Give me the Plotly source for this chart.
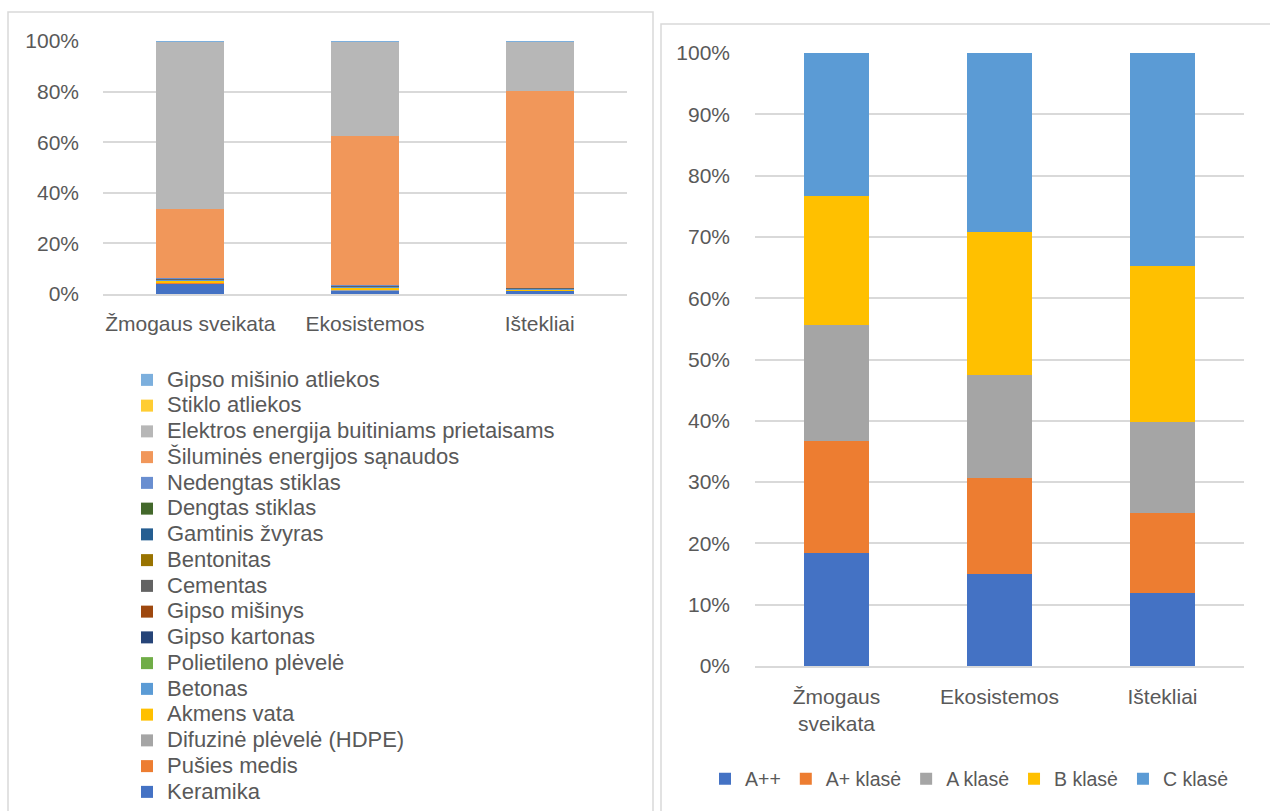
import plotly.graph_objects as go

W, H = 1270, 811

# ---- left chart: environmental impact by material / energy use ----
categories_left = ["Žmogaus sveikata", "Ekosistemos", "Ištekliai"]

# stacked bottom -> top
left_series = [
    ("Keramika", "#4472C4", [4.2, 1.3, 1.2]),
    ("Pušies medis", "#ED7D31", [0.15, 0.10, 0.05]),
    ("Difuzinė plėvelė (HDPE)", "#A5A5A5", [0.05, 0.05, 0.05]),
    ("Akmens vata", "#FFC000", [1.0, 1.05, 0.5]),
    ("Betonas", "#5B9BD5", [0.35, 0.45, 0.35]),
    ("Polietileno plėvelė", "#70AD47", [0.02, 0.02, 0.02]),
    ("Gipso kartonas", "#264478", [0.10, 0.10, 0.08]),
    ("Gipso mišinys", "#9E480E", [0.03, 0.03, 0.02]),
    ("Cementas", "#636363", [0.10, 0.15, 0.10]),
    ("Bentonitas", "#997300", [0.02, 0.02, 0.02]),
    ("Gamtinis žvyras", "#255E91", [0.03, 0.03, 0.03]),
    ("Dengtas stiklas", "#43682B", [0.10, 0.15, 0.05]),
    ("Nedengtas stiklas", "#698ED0", [0.10, 0.20, 0.05]),
    ("Šiluminės energijos sąnaudos", "#F1975A", [27.35, 58.85, 77.68]),
    ("Elektros energija buitiniams prietaisams", "#B7B7B7", [66.37, 37.47, 19.77]),
    ("Stiklo atliekos", "#FFCD33", [0.02, 0.02, 0.02]),
    ("Gipso mišinio atliekos", "#7CAFDD", [0.01, 0.01, 0.01]),
]

# ---- right chart: energy class comparison ----
categories_right = ["Žmogaus<br>sveikata", "Ekosistemos", "Ištekliai"]
right_series = [
    ("A++", "#4472C4", [18.4, 15.0, 11.9]),
    ("A+ klasė", "#ED7D31", [18.3, 15.7, 13.1]),
    ("A klasė", "#A5A5A5", [18.9, 16.8, 14.8]),
    ("B klasė", "#FFC000", [21.1, 23.3, 25.5]),
    ("C klasė", "#5B9BD5", [23.3, 29.2, 34.7]),
]

left_ticks = [0, 20, 40, 60, 80, 100]
left_tick_text = ["0%", "20%", "40%", "60%", "80%", "100%"]
right_ticks = [0, 10, 20, 30, 40, 50, 60, 70, 80, 90, 100]
right_tick_text = ["0%", "10%", "20%", "30%", "40%", "50%",
                   "60%", "70%", "80%", "90%", "100%"]

FONT = "Liberation Sans"
TXT = "#595959"
GRID = "#D9D9D9"

fig = go.Figure()

for name, color, vals in left_series:
    fig.add_trace(go.Bar(
        x=categories_left, y=vals,
        # legend rows stay tight while the label itself is drawn larger
        name=f'<span style="font-size:22px">{name}</span>',
        marker_color=color,
        marker_line_width=0, width=0.39, xaxis="x", yaxis="y",
        legend="legend",
    ))

for name, color, vals in right_series:
    fig.add_trace(go.Bar(
        x=categories_right, y=vals, name=name, marker_color=color,
        marker_line_width=0, width=0.4, xaxis="x2", yaxis="y2",
        legend="legend2",
    ))


def px_x(v):
    return v / W


def px_y(v):
    return 1 - v / H


axis_font = dict(family=FONT, size=21, color=TXT)

fig.update_layout(
    width=W, height=H,
    margin=dict(l=0, r=0, t=0, b=0, autoexpand=False),
    paper_bgcolor="white", plot_bgcolor="white",
    barmode="stack",
    font=dict(family=FONT, color=TXT),
    xaxis=dict(
        domain=[px_x(103), px_x(627)], anchor="y",
        showline=True, linecolor=GRID, linewidth=1.5,
        showgrid=False, ticks="", tickfont=axis_font,
        ticklabelstandoff=10, fixedrange=True, automargin=False,
    ),
    yaxis=dict(
        domain=[px_y(294), px_y(41)], anchor="x",
        range=[0, 100], tickmode="array", tickvals=left_ticks,
        ticktext=left_tick_text,
        showgrid=True, gridcolor=GRID, gridwidth=1.5, zeroline=False,
        showline=False, ticks="", tickfont=axis_font,
        ticklabelstandoff=23, fixedrange=True, automargin=False,
    ),
    xaxis2=dict(
        domain=[px_x(755), px_x(1244)], anchor="y2",
        showline=True, linecolor=GRID, linewidth=1.5,
        showgrid=False, ticks="", tickfont=axis_font,
        ticklabelstandoff=11, fixedrange=True, automargin=False,
    ),
    yaxis2=dict(
        domain=[px_y(666), px_y(53)], anchor="x2",
        range=[0, 100], tickmode="array", tickvals=right_ticks,
        ticktext=right_tick_text,
        showgrid=True, gridcolor=GRID, gridwidth=1.5, zeroline=False,
        showline=False, ticks="", tickfont=axis_font,
        ticklabelstandoff=24, fixedrange=True, automargin=False,
    ),
    legend=dict(
        x=px_x(127), y=px_y(362), xanchor="left", yanchor="top",
        orientation="v", traceorder="reversed",
        font=dict(family=FONT, size=17.5, color=TXT),
        bgcolor="rgba(0,0,0,0)", itemclick=False, itemdoubleclick=False,
    ),
    legend2=dict(
        x=px_x(969), y=px_y(779), xanchor="center", yanchor="middle",
        orientation="h", traceorder="normal",
        font=dict(family=FONT, size=19.5, color=TXT),
        bgcolor="rgba(0,0,0,0)", itemclick=False, itemdoubleclick=False,
    ),
    shapes=[
        dict(type="rect", xref="paper", yref="paper",
             x0=px_x(8), x1=px_x(653), y0=-0.05, y1=px_y(12),
             line=dict(color=GRID, width=1.5), layer="below"),
        dict(type="rect", xref="paper", yref="paper",
             x0=px_x(661), x1=1.05, y0=-0.05, y1=px_y(24),
             line=dict(color=GRID, width=1.5), layer="below"),
    ],
)

fig.write_html("out.html", config={"displayModeBar": False})
